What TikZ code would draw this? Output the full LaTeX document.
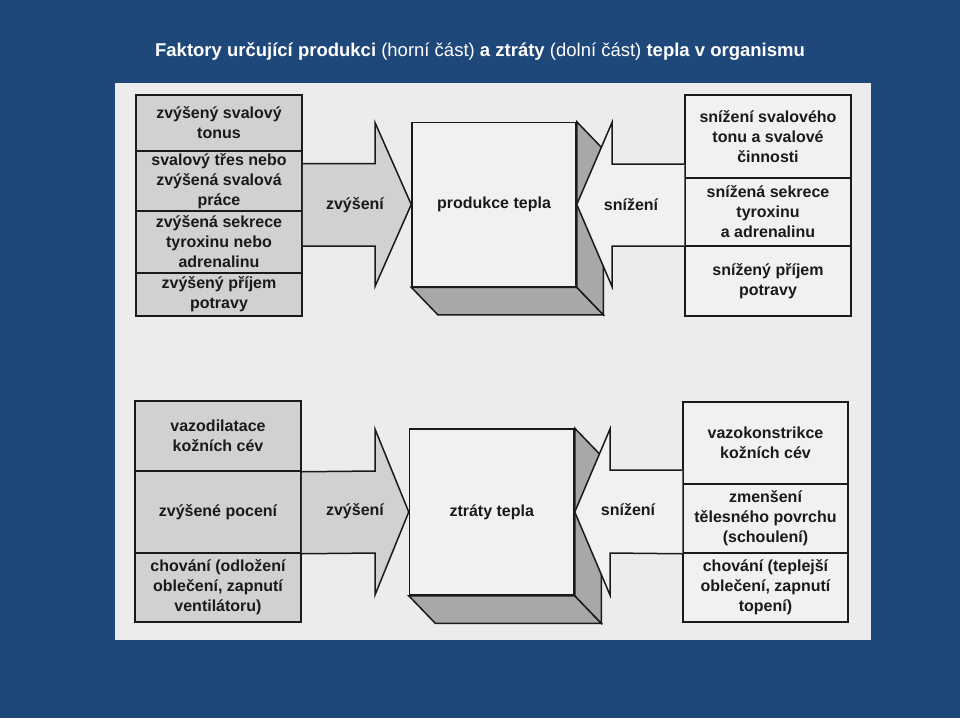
\documentclass[tikz,border=0pt]{standalone}
\usepackage{fontspec}
\usetikzlibrary{calc}
\setmainfont{Liberation Sans}
\definecolor{slideblue}{HTML}{1F487A}
\definecolor{paper}{HTML}{ECECEC}
\definecolor{stip}{HTML}{D1D1D1}
\definecolor{lightfill}{HTML}{F1F1F1}
\definecolor{facegrey}{HTML}{A8A8A8}
\definecolor{ink}{HTML}{1A1A1A}
\tikzset{
  cellbase/.style={draw=ink, line width=1.5pt, inner sep=0pt, align=center,
    font=\fontsize{16}{20}\selectfont\bfseries, text=ink},
  cellL/.style={cellbase, fill=stip},
  cellR/.style={cellbase, fill=lightfill},
  frontface/.style={cellbase, fill=lightfill},
  sideface/.style={draw=ink, line width=1.5pt, line join=miter, fill=facegrey},
  arrL/.style={draw=ink, line width=1.5pt, fill=stip},
  arrR/.style={draw=ink, line width=1.5pt, fill=lightfill},
  lbl/.style={font=\fontsize{16}{20}\selectfont\bfseries, text=ink, inner sep=0pt}
}
\begin{document}
\begin{tikzpicture}[x=1pt,y=-1pt]
\useasboundingbox (0,0) rectangle (960,718);
\fill[slideblue] (0,0) rectangle (960,718);
\fill[paper] (115,83) rectangle (871,640);

\node[text=white, font=\fontsize{18.5}{22}\selectfont, inner sep=0pt] (title) at (480,51.5)
  {\textbf{Faktory určující produkci} (horní část) \textbf{a ztráty} (dolní část) \textbf{tepla v organismu}};

% ---------- top: heat production ----------
\node[frontface, minimum width=164pt, minimum height=164pt] (prodT) at (494,204.5) {};
\draw[sideface] (prodT.south west) -- ++(26.5,27.5) -- ($(prodT.south east)+(26.5,27.5)$) -- (prodT.south east) -- cycle;
\draw[sideface] (prodT.north east) -- ++(26.5,27.5) -- ($(prodT.south east)+(26.5,27.5)$) -- (prodT.south east) -- cycle;
\node[frontface, minimum width=164pt, minimum height=164pt] (prodTf) at (494,204.5) {};
\node[lbl] (prodTt) at (prodTf.center) {produkce tepla};

\node[cellL, minimum width=166pt, minimum height=56pt] (tl1) at (219,123) {zvýšený svalový\\tonus};
\node[cellL, minimum width=166pt, minimum height=60pt] (tl2) at (219,181) {svalový třes nebo\\zvýšená svalová\\práce};
\node[cellL, minimum width=166pt, minimum height=62pt] (tl3) at (219,242) {zvýšená sekrece\\tyroxinu nebo\\adrenalinu};
\node[cellL, minimum width=166pt, minimum height=43pt] (tl4) at (219,294.5) {zvýšený příjem\\potravy};

\node[cellR, minimum width=166pt, minimum height=83pt] (tr1) at (768,136.5) {snížení svalového\\tonu a svalové\\činnosti};
\node[cellR, minimum width=166pt, minimum height=68pt] (tr2) at (768,212) {snížená sekrece\\tyroxinu\\a adrenalinu};
\node[cellR, minimum width=166pt, minimum height=70pt] (tr3) at (768,281) {snížený příjem\\potravy};

\fill[stip] (tl2.east |- 0,163.5) -- (375,163.5) -- (375,122.5) -- (prodTf.west) -- (375,286.5) -- (375,246) -- (tl3.east |- 0,246) -- cycle;
\draw[arrL, fill=none, line join=miter] (tl2.east |- 0,163.5) -- (375,163.5) -- (375,122.5) -- (prodTf.west) -- (375,286.5) -- (375,246) -- (tl3.east |- 0,246);
\fill[lightfill] (tr1.west |- 0,164) -- (612,164) -- (612,122.5) -- (prodTf.east) -- (612,286.5) -- (612,246) -- (tr3.west |- 0,246) -- cycle;
\draw[arrR, fill=none, line join=miter] (tr1.west |- 0,164) -- (612,164) -- (612,122.5) -- (prodTf.east) -- (612,286.5) -- (612,246) -- (tr3.west |- 0,246);
\node[lbl] (incT) at (355,205) {zvýšení};
\node[lbl] (decT) at (631,205) {snížení};

% ---------- bottom: heat loss ----------
\node[frontface, minimum width=164.5pt, minimum height=166pt] (lossB) at (491.75,512) {};
\draw[sideface] (lossB.south west) -- ++(26.5,27.5) -- ($(lossB.south east)+(26.5,27.5)$) -- (lossB.south east) -- cycle;
\draw[sideface] (lossB.north east) -- ++(26.5,27.5) -- ($(lossB.south east)+(26.5,27.5)$) -- (lossB.south east) -- cycle;
\node[frontface, minimum width=164.5pt, minimum height=166pt] (lossBf) at (491.75,512) {};
\node[lbl] (lossBt) at (lossBf.center) {ztráty tepla};

\node[cellL, minimum width=166pt, minimum height=70pt] (bl1) at (218,436) {vazodilatace\\kožních cév};
\node[cellL, minimum width=166pt, minimum height=82pt] (bl2) at (218,512) {zvýšené pocení};
\node[cellL, minimum width=166pt, minimum height=69pt] (bl3) at (218,587.5) {chování (odložení\\oblečení, zapnutí\\ventilátoru)};

\node[cellR, minimum width=165pt, minimum height=82pt] (br1) at (765.5,443) {vazokonstrikce\\kožních cév};
\node[cellR, minimum width=165pt, minimum height=69pt] (br2) at (765.5,518.5) {zmenšení\\tělesného povrchu\\(schoulení)};
\node[cellR, minimum width=165pt, minimum height=69pt] (br3) at (765.5,587.5) {chování (teplejší\\oblečení, zapnutí\\topení)};

\fill[stip] (bl1.south east) -- (375,471) -- (375,429) -- (lossBf.west) -- (375,595) -- (375,553) -- (bl2.south east) -- cycle;
\draw[arrL, fill=none, line join=miter] (bl1.south east) -- (375,471) -- (375,429) -- (lossBf.west) -- (375,595) -- (375,553) -- (bl2.south east);
\fill[lightfill] (br1.west |- 0,470) -- (610,470) -- (610,429) -- (lossBf.east) -- (610,595) -- (610,553) -- (br2.south west) -- cycle;
\draw[arrR, fill=none, line join=miter] (br1.west |- 0,470) -- (610,470) -- (610,429) -- (lossBf.east) -- (610,595) -- (610,553) -- (br2.south west);
\node[lbl] (incB) at (355,511.5) {zvýšení};
\node[lbl] (decB) at (628,510) {snížení};
\end{tikzpicture}
\end{document}
